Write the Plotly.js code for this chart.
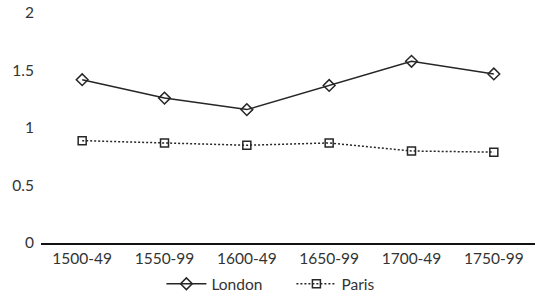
<!DOCTYPE html>
<html><head><meta charset="utf-8">
<script src="https://cdn.plot.ly/plotly-3.0.1.min.js"></script>
<style>html,body{margin:0;padding:0;background:#fff}#c{width:538px;height:301px}</style>
</head><body><div id="c"></div>
<script>
const categories = ["1500-49","1550-99","1600-49","1650-99","1700-49","1750-99"];
const london = [1.42, 1.26, 1.16, 1.37, 1.58, 1.47];
const paris = [0.89, 0.87, 0.85, 0.87, 0.80, 0.79];
const col = "#262626";
const traces = [
  {x: categories, y: london, name: "London", type: "scatter", mode: "lines+markers",
   line: {color: col, width: 1.5}, marker: {symbol: "diamond-open", size: 9, color: col, line: {width: 1.5, color: col}}},
  {x: categories, y: paris, name: "Paris", type: "scatter", mode: "lines+markers",
   line: {color: col, width: 1.5, dash: "2px,2px"}, marker: {symbol: "square-open", size: 8, color: col, line: {width: 1.5, color: col}}}
];
const layout = {
  width: 538, height: 301,
  margin: {l: 41, r: 3, t: 13, b: 58, autoexpand: false},
  paper_bgcolor: "#fff", plot_bgcolor: "#fff",
  font: {family: "Lato, 'Open Sans', sans-serif", size: 15.5, color: "#333"},
  showlegend: true,
  legend: {orientation: "h", x: 0.3, xanchor: "left", xref: "container", y: 0.056, yref: "container", yanchor: "middle", font: {size: 15.5}, itemwidth: 40, entrywidth: 75},
  xaxis: {type: "category", range: [-0.5, 5.5], showgrid: false, showline: true, linecolor: "#111", linewidth: 2, ticks: "", zeroline: false, fixedrange: true, automargin: false},
  yaxis: {range: [0, 2], dtick: 0.5, showgrid: false, showline: false, zeroline: false, ticks: "", ticklabelstandoff: 6, fixedrange: true, automargin: false}
};
Plotly.newPlot("c", traces, layout, {displayModeBar: false, staticPlot: true});
</script></body></html>
